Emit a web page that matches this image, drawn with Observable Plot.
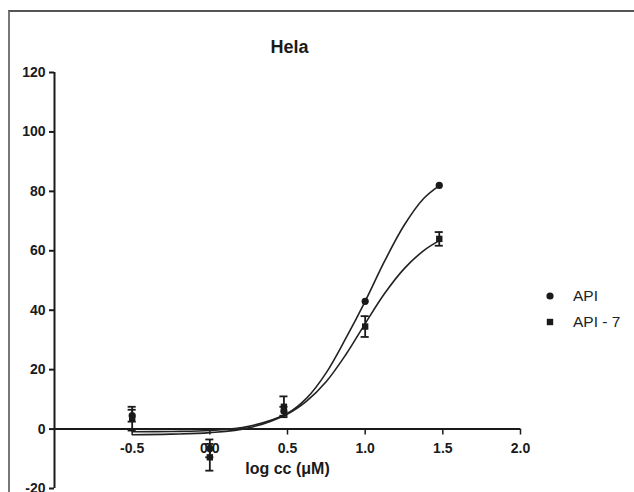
<!DOCTYPE html>
<html>
<head>
<meta charset="utf-8">
<script src="https://cdn.jsdelivr.net/npm/d3@7"></script>
<script src="https://cdn.jsdelivr.net/npm/@observablehq/plot@0.6"></script>
<style>
  html, body { margin: 0; padding: 0; background: #fff; }
  #wrap { position: relative; width: 634px; height: 492px; overflow: hidden; font-family: "Liberation Sans", Arial, sans-serif; }
  #frame { position: absolute; left: 8px; top: 10px; width: 640px; height: 500px; border-top: 2px solid #555; border-left: 2px solid #777; }
  #chart { position: absolute; left: 0; top: 0; }
  #legend { position: absolute; left: 543px; top: 283px; font-size: 15.5px; color: #222; line-height: 26px; }
  #legend .row { display: flex; align-items: center; }
  #legend .sym { width: 14px; display: inline-flex; justify-content: center; margin-right: 16px; }
</style>
</head>
<body>
<div id="wrap">
  <div id="frame"></div>
  <div id="chart"></div>
  <div id="legend"></div>
</div>
<script>
// ---- data ----
const title = "Hela";
const xLabel = "log cc (\u03bcM)";
const seriesNames = ["API", "API - 7"];
const doseX = [-0.5, 0, 0.477, 1.0, 1.477];
const apiMean = [4.5, -6.5, 6, 43, 82];
const apiErr = [2, 3, 1.5, 0, 0];
const api7Mean = [3.5, -9.5, 7.5, 34.5, 64];
const api7Err = [4, 4.5, 3.5, 3.5, 2.3];
// fitted curves
const curveX = [-0.5, -0.25, 0, 0.25, 0.5, 0.625, 0.75, 0.875, 1.0, 1.125, 1.25, 1.375, 1.48];
const apiCurve = [-0.9, -0.8, -0.5, 0.9, 5.3, 10.5, 19, 30.5, 43, 56.5, 68.5, 77.5, 82];
const api7Curve = [-1.9, -1.7, -1.2, 0.4, 5.1, 9.5, 16, 25, 35.5, 45.6, 53.9, 60, 63.5];
const xTicks = [-0.5, 0.0, 0.5, 1.0, 1.5, 2.0];
const yTicks = [-20, 0, 20, 40, 60, 80, 100, 120];

// ---- build tables ----
const points = [];
doseX.forEach((x, i) => {
  points.push({series: seriesNames[0], x, y: apiMean[i], e: apiErr[i]});
  points.push({series: seriesNames[1], x, y: api7Mean[i], e: api7Err[i]});
});
const curves = [];
curveX.forEach((x, i) => {
  curves.push({series: seriesNames[0], x, y: apiCurve[i]});
  curves.push({series: seriesNames[1], x, y: api7Curve[i]});
});
const bars = points.filter(d => d.e > 0);
const capHalf = 0.026;

const ink = "#1a1a1a";
const chart = Plot.plot({
  width: 634,
  height: 492,
  marginLeft: 54,
  marginRight: 114,
  marginTop: 72,
  marginBottom: 4,
  style: {fontFamily: "Liberation Sans, Arial, sans-serif", background: "transparent"},
  x: {domain: [-1, 2], axis: null},
  y: {domain: [-20, 120], axis: null},
  symbol: {domain: seriesNames, range: ["circle", "square"]},
  marks: [
    // y axis
    Plot.ruleX([-1], {y1: -20, y2: 120, stroke: ink, strokeWidth: 2}),
    Plot.axisY({ticks: yTicks, label: null, tickSize: 5, tickPadding: 4, tickFormat: d => String(d),
      fontSize: 14, fontWeight: "bold", stroke: ink, strokeWidth: 2, fill: ink}),
    // x axis along y = 0
    Plot.ruleY([0], {stroke: ink, strokeWidth: 2}),
    Plot.ruleX(xTicks, {x: d => d, y1: 0, y2: -2, stroke: ink, strokeWidth: 1.5}),
    Plot.text(xTicks, {x: d => d, y: 0, dy: 19, text: d => d.toFixed(1), fontSize: 14, fontWeight: "bold", fill: ink}),
    Plot.text([xLabel], {frameAnchor: "bottom", dy: -15, text: d => d, fontSize: 16, fontWeight: "bold", fill: ink}),
    Plot.text([title], {frameAnchor: "top", dx: 2, dy: -32, text: d => d, fontSize: 18, fontWeight: "bold", fill: ink}),
    // fitted curves
    Plot.line(curves, {x: "x", y: "y", z: "series", curve: "catmull-rom", stroke: "#222", strokeWidth: 1.6}),
    // error bars
    Plot.ruleX(bars, {x: "x", y1: d => d.y - d.e, y2: d => d.y + d.e, stroke: ink, strokeWidth: 1.8}),
    Plot.ruleY(bars, {y: d => d.y - d.e, x1: d => d.x - capHalf, x2: d => d.x + capHalf, stroke: ink, strokeWidth: 1.8}),
    Plot.ruleY(bars, {y: d => d.y + d.e, x1: d => d.x - capHalf, x2: d => d.x + capHalf, stroke: ink, strokeWidth: 1.8}),
    // points
    Plot.dot(points, {x: "x", y: "y", symbol: "series", fill: ink, r: 3.6})
  ]
});
document.getElementById("chart").appendChild(chart);

// legend
const legend = document.getElementById("legend");
seriesNames.forEach((name, i) => {
  const row = document.createElement("div");
  row.className = "row";
  const sym = i === 0
    ? '<svg width="10" height="10"><circle cx="5" cy="5" r="3.6" fill="#1a1a1a"/></svg>'
    : '<svg width="10" height="10"><rect x="1.8" y="1.8" width="6.4" height="6.4" fill="#1a1a1a"/></svg>';
  row.innerHTML = '<span class="sym">' + sym + '</span><span>' + name + '</span>';
  legend.appendChild(row);
});
</script>
</body>
</html>
